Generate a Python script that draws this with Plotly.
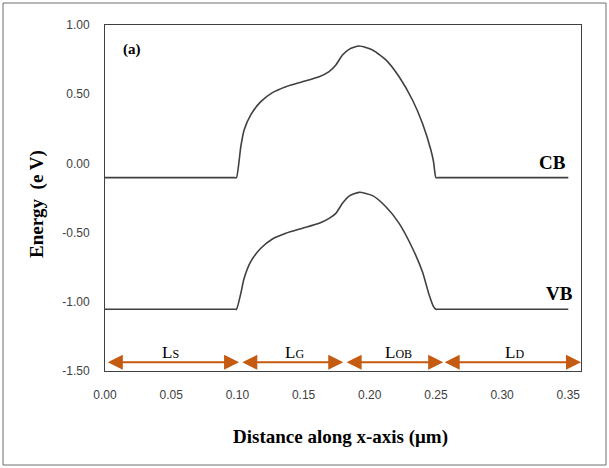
import plotly.graph_objects as go

# Conduction band (CB) and valence band (VB) energy along the channel
x_cb = [0.0, 0.05, 0.098, 0.0993, 0.1026, 0.1051, 0.1101, 0.1177, 0.1265, 0.1366,
        0.1491, 0.1618, 0.1693, 0.1744, 0.1794, 0.1844, 0.1920, 0.2021, 0.2122,
        0.2222, 0.2323, 0.2398, 0.2462, 0.2482, 0.2500, 0.2515, 0.30, 0.35]
e_cb = [-0.103, -0.103, -0.103, -0.103, 0.121, 0.241, 0.350, 0.446, 0.511, 0.554,
        0.590, 0.626, 0.663, 0.711, 0.783, 0.824, 0.848, 0.819, 0.748,
        0.626, 0.458, 0.290, 0.097, 0.012, -0.103, -0.103, -0.103, -0.103]

x_vb = [0.0, 0.05, 0.098, 0.0993, 0.1026, 0.1051, 0.1101, 0.1177, 0.1265, 0.1366,
        0.1491, 0.1618, 0.1693, 0.1744, 0.1794, 0.1844, 0.1920, 0.2021, 0.2122,
        0.2222, 0.2323, 0.2398, 0.2449, 0.2482, 0.2500, 0.2515, 0.30, 0.35]
e_vb = [-1.054, -1.054, -1.054, -1.054, -0.939, -0.830, -0.710, -0.613, -0.546, -0.505,
        -0.469, -0.433, -0.397, -0.361, -0.288, -0.236, -0.209, -0.233, -0.313,
        -0.433, -0.613, -0.783, -0.951, -1.035, -1.054, -1.054, -1.054, -1.054]

# Device regions: source, gate, oxide barrier, drain
region_main = ["L", "L", "L", "L"]
region_sub = ["S", "G", "OB", "D"]
region_start = [0.001, 0.1026, 0.1814, 0.2555]
region_end = [0.1013, 0.1800, 0.2555, 0.3596]
region_label_x = [0.0497, 0.143, 0.2215, 0.309]

x_ticks = [0.00, 0.05, 0.10, 0.15, 0.20, 0.25, 0.30, 0.35]
y_ticks = [1.00, 0.50, 0.00, -0.50, -1.00, -1.50]

line_col = "#404040"
arrow_col = "#C55A11"
serif = "Liberation Serif, Times New Roman, serif"
sans = "Liberation Sans, Arial, sans-serif"

fig = go.Figure()
fig.add_trace(go.Scatter(x=x_cb, y=e_cb, mode="lines", name="CB",
                         line=dict(color=line_col, width=1.6, shape="spline", smoothing=0.6)))
fig.add_trace(go.Scatter(x=x_vb, y=e_vb, mode="lines", name="VB",
                         line=dict(color=line_col, width=1.6, shape="spline", smoothing=0.6)))

annotations = []
arrow_y = -1.437
for main, sub, xs, xe, xl in zip(region_main, region_sub, region_start, region_end, region_label_x):
    annotations.append(dict(x=xe, y=arrow_y, ax=xs, ay=arrow_y, xref="x", yref="y",
                            axref="x", ayref="y", text="", showarrow=True,
                            arrowhead=2, startarrowhead=2, arrowside="end+start",
                            arrowsize=1.5, startarrowsize=1.5, arrowwidth=2,
                            arrowcolor=arrow_col))
    annotations.append(dict(x=xl, y=-1.365, xref="x", yref="y",
                            text=f"{main}<span style='font-size:12px'>{sub}</span>",
                            showarrow=False,
                            font=dict(family=serif, size=17, color="#000000")))

annotations += [
    dict(x=0.0205, y=0.82, xref="x", yref="y", text="<b>(a)</b>", showarrow=False,
         font=dict(family=serif, size=15, color="#000000")),
    dict(x=0.35, y=0.01, xref="x", yref="y", text="<b>CB</b>", showarrow=False,
         xanchor="right", yanchor="middle", font=dict(family=serif, size=19, color="#000000")),
    dict(x=0.355, y=-0.94, xref="x", yref="y", text="<b>VB</b>", showarrow=False,
         xanchor="right", yanchor="middle", font=dict(family=serif, size=19, color="#000000")),
    dict(x=(340 - 105) / 476, y=-(437 - 371) / 346, xref="paper", yref="paper",
         text="<b>Distance along x-axis (μm)</b>", showarrow=False,
         xanchor="center", yanchor="middle", font=dict(family=serif, size=19, color="#000000")),
    dict(x=(37 - 105) / 476, y=(371 - 204) / 346, xref="paper", yref="paper",
         text="<b>Energy  (e V)</b>", showarrow=False, textangle=-90,
         xanchor="center", yanchor="middle", font=dict(family=serif, size=19, color="#000000")),
]

fig.update_layout(
    width=609, height=468,
    margin=dict(l=105, r=28, t=25, b=97),
    paper_bgcolor="white", plot_bgcolor="white",
    showlegend=False,
    annotations=annotations,
    shapes=[dict(type="rect", xref="paper", yref="paper",
                 x0=(3 - 105) / 476, x1=(606 - 105) / 476,
                 y0=-(465 - 371) / 346, y1=1 + (25 - 3) / 346,
                 line=dict(color="#6e6e6e", width=1), fillcolor="rgba(0,0,0,0)", layer="below")],
)
fig.update_xaxes(range=[0, 0.3596], tickvals=x_ticks, ticktext=[f"{v:.2f}" for v in x_ticks],
                 showgrid=False, zeroline=False, showline=True, linecolor="#404040", linewidth=1,
                 mirror=True, ticks="", ticklabelstandoff=13,
                 tickfont=dict(family=sans, size=12, color="#404040"))
fig.update_yaxes(range=[-1.5, 1.0], tickvals=y_ticks, ticktext=[f"{v:.2f}" for v in y_ticks],
                 showgrid=False, zeroline=False, showline=True, linecolor="#404040", linewidth=1,
                 mirror=True, ticks="", ticklabelstandoff=12,
                 tickfont=dict(family=sans, size=12, color="#404040"))

fig.write_html("out.html")
